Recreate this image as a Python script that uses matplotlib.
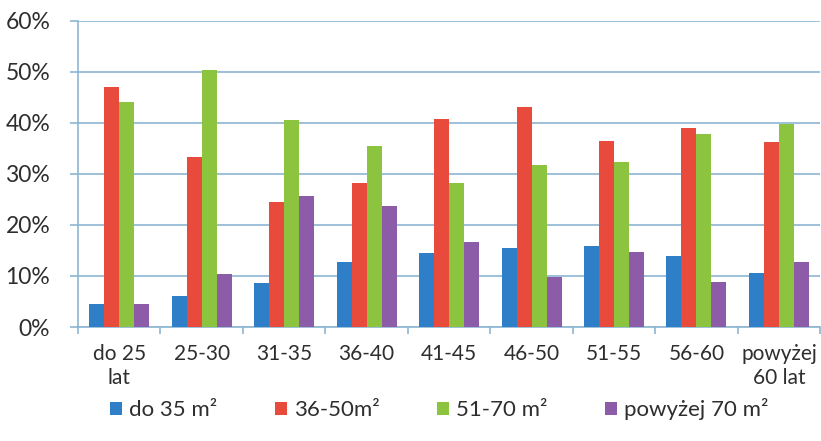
import numpy as np
import matplotlib
matplotlib.use("Agg")
import matplotlib.pyplot as plt

plt.rcParams['font.family'] = ['Lato', 'DejaVu Sans']

# age groups and share of flat size per group
age_groups = ["do 25\nlat", "25-30", "31-35", "36-40", "41-45",
              "46-50", "51-55", "56-60", "powyżej\n60 lat"]
series_names = ["do 35 m²", "36-50m²", "51-70 m²", "powyżej 70 m²"]
do_35 = [4.5, 6.0, 8.7, 12.8, 14.4, 15.4, 15.9, 13.9, 10.5]
m36_50 = [47.0, 33.2, 24.5, 28.2, 40.8, 43.0, 36.5, 39.0, 36.2]
m51_70 = [44.0, 50.4, 40.6, 35.4, 28.2, 31.8, 32.3, 37.8, 39.8]
above_70 = [4.5, 10.4, 25.6, 23.6, 16.7, 9.7, 14.6, 8.9, 12.8]
y_ticks = [0, 10, 20, 30, 40, 50, 60]

colors = ["#2f7ec8", "#e84a3c", "#8cc43f", "#8d5ca9"]
grid_col = "#8db5d3"
text_col = "#2e2e2e"

fig = plt.figure(figsize=(8.21, 4.41), dpi=100)
ax = fig.add_axes([0.095, 0.2585, 0.904, 0.695])

x = np.arange(len(age_groups))
width = 0.182
all_series = [do_35, m36_50, m51_70, above_70]
for i, (vals, col, name) in enumerate(zip(all_series, colors, series_names)):
    offset = (i - 1.5) * width
    ax.bar(x + offset, vals, width, color=col, label=name, zorder=3)

ax.set_xlim(-0.5, len(age_groups) - 0.5)
ax.set_ylim(0, 60)
ax.set_yticks(y_ticks)
ax.set_yticklabels([f"{t}%" for t in y_ticks], fontsize=16.5, color=text_col)
ax.yaxis.grid(True, color=grid_col, linewidth=1.2, zorder=0)

# category labels centred, tick marks at the boundaries
ax.set_xticks(x)
ax.set_xticklabels(age_groups, fontsize=15, color=text_col, linespacing=1.25)
ax.tick_params(axis='x', length=0, pad=12)
ax.set_xticks(np.arange(len(age_groups) + 1) - 0.5, minor=True)
ax.tick_params(axis='x', which='minor', length=5, color=grid_col, width=1.2)
ax.tick_params(axis='y', length=6, color=grid_col, width=1.2, pad=14)

for side in ["top", "right"]:
    ax.spines[side].set_visible(False)
ax.spines["left"].set_color(grid_col)
ax.spines["left"].set_linewidth(1.2)
ax.spines["bottom"].set_color(grid_col)
ax.spines["bottom"].set_linewidth(1.2)

fig.legend(loc='center', bbox_to_anchor=(0.535, 0.072), ncol=4, frameon=False,
           fontsize=16, handlelength=0.55, handleheight=0.55, handletextpad=0.3,
           columnspacing=2.6, labelcolor=text_col)

fig.savefig("out.png", dpi=100)
